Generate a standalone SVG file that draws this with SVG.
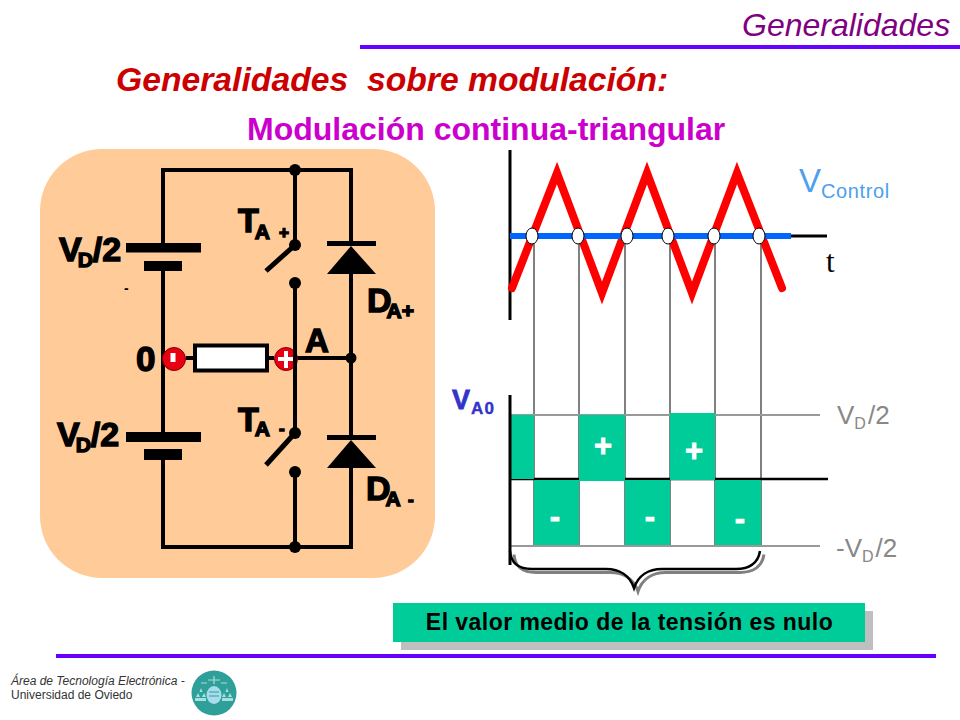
<svg xmlns="http://www.w3.org/2000/svg" width="960" height="720" viewBox="0 0 960 720">
<style>
text{font-family:"Liberation Sans",Arial,sans-serif}
.w{fill:none;stroke:#000;stroke-width:4}
.b{fill:#000}
.l{font-weight:bold;fill:#000;stroke:#000;stroke-width:1.400}
.big{font-size:34px}
.sub{font-size:21px}
.g{fill:#00cc99}
.gr{stroke:#808080;stroke-width:2;fill:none}
.s{font-weight:bold;fill:#fff;stroke:#fff;stroke-width:.8;text-anchor:middle}
.v{font-size:26px;fill:#888}
.v2{font-size:16px}
.lg{fill:#a8e0dc}
</style>
<rect width="960" height="720" fill="#fff"/>
<g id="header">
<text x="742" y="36" font-size="32" font-style="italic" fill="#800080">Generalidades</text>
<rect x="360" y="45" width="600" height="4" fill="#6600ff"/>
<text x="116" y="91" font-size="33.700" font-weight="bold" font-style="italic" fill="#cc0000" style="white-space:pre">Generalidades  sobre modulación:</text>
<text x="247" y="140" font-size="32" font-weight="bold" fill="#cc00cc">Modulación continua-triangular</text>
</g>
<g id="panel"><rect x="40" y="149" width="395" height="429" rx="62" fill="#ffcc99"/></g>
<g id="connectors">
<path class="w" d="M163 243V170H351V243M351 274V437M351 468V547H163V460M163 271V432M295 170V245M295 283V433M295 472V547M295 358H351M186 358H194M268 358H274"/>
<path d="M295 245L266 271M295 433L266 465" fill="none" stroke="#000" stroke-width="5"/>
</g>
<g id="battery-top"><rect class="b" x="126" y="243" width="75" height="9.500"/><rect class="b" x="144" y="261" width="38" height="10"/>
<text class="l big" x="59" y="261">V<tspan class="sub" dx="-4" dy="6">D</tspan><tspan dy="-6">/2</tspan></text>
<text x="124" y="293" font-size="14" font-weight="bold">-</text></g>
<g id="battery-bottom"><rect class="b" x="126" y="432" width="75" height="10"/><rect class="b" x="144" y="449" width="38" height="11"/>
<text class="l big" x="57" y="446">V<tspan class="sub" dx="-4" dy="6">D</tspan><tspan dy="-6">/2</tspan></text></g>
<g id="switch-top"><circle class="b" cx="295" cy="170" r="6"/><circle class="b" cx="295" cy="245" r="6"/><circle class="b" cx="295" cy="283" r="6"/>
<text class="l big" x="238" y="232">T<tspan class="sub" dx="-4" dy="7">A</tspan></text><text class="l" x="279" y="238" font-size="17">+</text></g>
<g id="switch-bottom"><circle class="b" cx="295" cy="433" r="6"/><circle class="b" cx="295" cy="472" r="6"/><circle class="b" cx="295" cy="547" r="6"/>
<text class="l big" x="238" y="431">T<tspan class="sub" dx="-4" dy="5">A</tspan></text><text class="l" x="279" y="434" font-size="17">-</text></g>
<g id="diode-top"><rect class="b" x="327" y="241" width="49" height="5"/><path class="b" d="M351 246L376 274H327Z"/>
<text class="l big" x="367" y="312">D<tspan class="sub" dx="-5" dy="6">A+</tspan></text></g>
<g id="diode-bottom"><rect class="b" x="327" y="435" width="49" height="5"/><path class="b" d="M351 440L376 468H327Z"/>
<text class="l big" x="366" y="500">D<tspan class="sub" dx="-5" dy="6">A</tspan></text><text class="l" x="408" y="505" font-size="17">-</text></g>
<g id="node-a"><circle class="b" cx="351" cy="358" r="5.500"/><text class="l" x="305" y="352" font-size="33">A</text></g>
<g id="load"><rect x="195" y="345.500" width="72" height="25" fill="#fff" stroke="#000" stroke-width="4"/></g>
<g id="pole-minus"><circle cx="174" cy="359" r="11.500" fill="#e60012" stroke="#800" stroke-width="1"/><rect x="170.500" y="353" width="5" height="9" fill="#fff"/>
<text class="l" x="136" y="371" font-size="35">0</text></g>
<g id="pole-plus"><circle cx="286" cy="359" r="11.500" fill="#e60012" stroke="#800" stroke-width="1"/><path d="M284 351h4v6h6v4h-6v7h-4v-7h-6v-4h6z" fill="#fff"/><path d="M295 345V372" stroke="#000" stroke-width="4"/></g>
<g id="control-plot">
<path d="M510 150V320" stroke="#000" stroke-width="3" fill="none"/>
<path d="M791 236H827" stroke="#000" stroke-width="3" fill="none"/>
<path class="gr" d="M534 240V546M579 240V546M625 240V546M670 240V546M715 240V546M761 240V546"/>
<path d="M512 288L557 173L602 293L647 173L692 293L737 173L782 288" fill="none" stroke="#ff0000" stroke-width="8" stroke-linecap="round"/>
<path d="M510 236H791" stroke="#0066ff" stroke-width="6" fill="none"/>
<g fill="#fff" stroke="#000" stroke-width="1"><ellipse cx="532" cy="236" rx="6" ry="8"/><ellipse cx="578" cy="236" rx="6" ry="8"/><ellipse cx="627" cy="236" rx="6" ry="8"/><ellipse cx="668" cy="236" rx="6" ry="8"/><ellipse cx="714" cy="236" rx="6" ry="8"/><ellipse cx="759" cy="236" rx="6" ry="8"/></g>
<text x="799" y="192" font-size="33" fill="#4da0ee">V<tspan font-size="20" letter-spacing=".6" dy="6">Control</tspan></text>
<text x="826" y="272" font-size="31" fill="#000" style="font-family:'Liberation Serif',serif">t</text>
</g>
<g id="va0-plot">
<path d="M510 415H820M510 546H820" stroke="#999" stroke-width="2" fill="none"/>
<path d="M510 479H828" stroke="#000" stroke-width="2.500" fill="none"/>
<rect class="g" x="511" y="415" width="23" height="64"/><rect class="g" x="579" y="415" width="46" height="66"/><rect class="g" x="670" y="413" width="45" height="67"/>
<rect class="g" x="534" y="480" width="45" height="65"/><rect class="g" x="625" y="480" width="45" height="65"/><rect class="g" x="715" y="480" width="46" height="65"/>
<path d="M510 395V565" stroke="#000" stroke-width="3" fill="none"/>
<text class="s" x="603" y="456" font-size="31">+</text><text class="s" x="694" y="461" font-size="31">+</text><text class="s" x="555" y="527" font-size="31">-</text><text class="s" x="650" y="527" font-size="31">-</text><text class="s" x="740" y="529" font-size="31">-</text>
<text x="452" y="409" font-size="27" font-weight="bold" fill="#3333cc" stroke="#3333cc" stroke-width=".8">V<tspan font-size="17" letter-spacing="1.200" stroke-width=".4" dx="1" dy="5">A0</tspan></text>
<text class="v" x="837" y="424">V<tspan class="v2" dy="5">D</tspan><tspan dx="2" dy="-5">/2</tspan></text>
<text class="v" x="836" y="557">-V<tspan class="v2" dy="5">D</tspan><tspan dx="2" dy="-5">/2</tspan></text>
</g>
<g id="brace">
<path d="M512 553C513 566 522 571 534 571H608C622 571 632 578 636 590C640 578 650 571 664 571H738C750 571 760 566 762 553" fill="none" stroke="#808080" stroke-width="3" transform="translate(2,1.500)"/>
<path d="M510 551C511 564 520 569 532 569H606C620 569 630 576 634 588C638 576 648 569 662 569H736C748 569 758 564 760 551" fill="none" stroke="#000" stroke-width="2.500"/>
</g>
<g id="note">
<rect x="401" y="611" width="472" height="39" fill="#bfbfbf"/>
<rect x="393" y="603" width="472" height="39" fill="#00cc99"/>
<text x="629.500" y="630" text-anchor="middle" font-size="23" letter-spacing=".45" font-weight="bold" fill="#000">El valor medio de la tensión es nulo</text>
</g>
<g id="footer">
<rect x="56" y="654" width="880" height="4" fill="#6600ff"/>
<text x="11" y="685" font-size="12" font-style="italic" fill="#333">Área de Tecnología Electrónica -</text>
<text x="11" y="699" font-size="12" fill="#333">Universidad de Oviedo</text>
<circle cx="214" cy="693" r="22.500" fill="#2f9f9a"/>
<ellipse cx="214" cy="695" rx="7.500" ry="9" fill="#a8dcec"/>
<path d="M214 676v8M208 680h12M201 683h6M221 683h6" stroke="#a8e0dc" stroke-width="1.200" fill="none"/>
<path d="M209 692h10M209 696h10" stroke="#2f9f9a" stroke-width="1.200" fill="none"/>
<path class="lg" d="M201 688l1.500 4h-3zM227 688l1.500 4h-3zM198 693l2 4h-4zM204 693l2 4h-4zM224 693l2 4h-4zM230 693l2 4h-4zM195 698h11v3h-11zM222 698h11v3h-11z"/>
</g>
</svg>
